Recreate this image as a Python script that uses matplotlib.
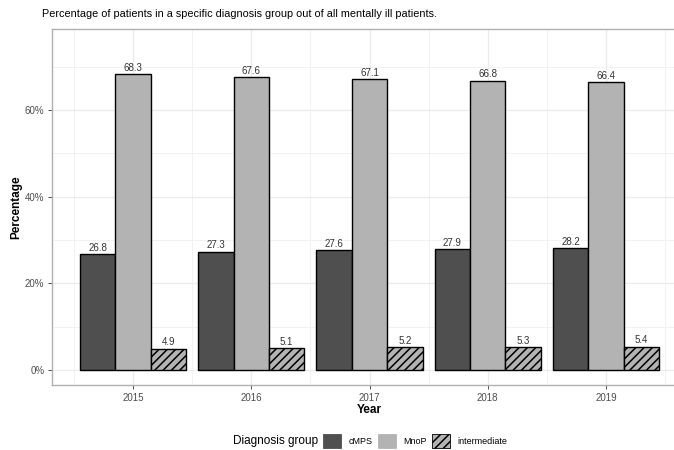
import matplotlib.pyplot as plt
import numpy as np
from matplotlib.patches import Patch

plt.rcParams['font.family'] = ['Liberation Sans', 'DejaVu Sans']
plt.rcParams['hatch.linewidth'] = 1.1

# Data
years = ['2015', '2016', '2017', '2018', '2019']
groups = ['cMPS', 'MnoP', 'intermediate']
cmps = [26.8, 27.3, 27.6, 27.9, 28.2]
mnop = [68.3, 67.6, 67.1, 66.8, 66.4]
intermediate = [4.9, 5.1, 5.2, 5.3, 5.4]

W, H = 674, 450
fig = plt.figure(figsize=(W / 100, H / 100), dpi=100)

# panel in pixel coords (right edge runs off the image, as in the reference)
left, right, top, bottom = 52, 687, 29, 385
ax = fig.add_axes([left / W, 1 - bottom / H, (right - left) / W, (bottom - top) / H])

x = np.arange(len(years))
bw = 0.3
series = [cmps, mnop, intermediate]
colors = ['#4f4f4f', '#b3b3b3', '#b3b3b3']
hatches = [None, None, '////']

for i, (vals, c, h) in enumerate(zip(series, colors, hatches)):
    pos = x + (i - 1) * bw
    ax.bar(pos, vals, width=bw, color=c, edgecolor='black', linewidth=1.0,
           hatch=h, zorder=3)
    for p, v in zip(pos, vals):
        ax.text(p, v + 0.3, f'{v}', ha='center', va='bottom', fontsize=7,
                color='#333333', zorder=4)

ax.set_xlim(-0.685, 4.685)
ax.set_ylim(-3.46, 78.7)
ax.set_xticks(x)
ax.set_xticklabels(years)
ax.set_xticks(np.arange(-0.5, 5, 1), minor=True)
ax.set_yticks([0, 20, 40, 60])
ax.set_yticklabels(['0%', '20%', '40%', '60%'])
ax.set_yticks([10, 30, 50, 70], minor=True)

ax.grid(which='major', color='#ebebeb', linewidth=0.9, zorder=0)
ax.grid(which='minor', color='#f2f2f2', linewidth=0.7, zorder=0)
ax.tick_params(which='major', labelsize=7, labelcolor='#4d4d4d', color='#333333',
               length=3, width=0.6, pad=2.5)
ax.tick_params(which='minor', length=0)
for s in ax.spines.values():
    s.set_color('#b0b0b0')
    s.set_linewidth(1.0)

ax.set_ylabel('Percentage', fontsize=8.5, fontweight='bold', labelpad=2)
ax.set_xlabel('Year', fontsize=8.5, fontweight='bold', labelpad=1)

fig.text(42 / W, 1 - 14 / H,
         'Percentage of patients in a specific diagnosis group out of all mentally ill patients.',
         ha='left', va='center', fontsize=7.8)

# legend
fig.text(233 / W, 1 - 441 / H, 'Diagnosis group', ha='left', va='center', fontsize=8.5)
handles = [Patch(facecolor=c, edgecolor='black' if h else c, hatch=h, linewidth=0.6)
           for c, h in zip(colors, hatches)]
fig.legend(handles, groups, loc='center left', bbox_to_anchor=(323 / W, 1 - 441 / H),
           ncol=3, frameon=False, fontsize=6.5, handlelength=2.0, handleheight=2.0,
           handletextpad=0.8, columnspacing=0.6, borderpad=0, borderaxespad=0)

fig.savefig('out.png', dpi=100)
